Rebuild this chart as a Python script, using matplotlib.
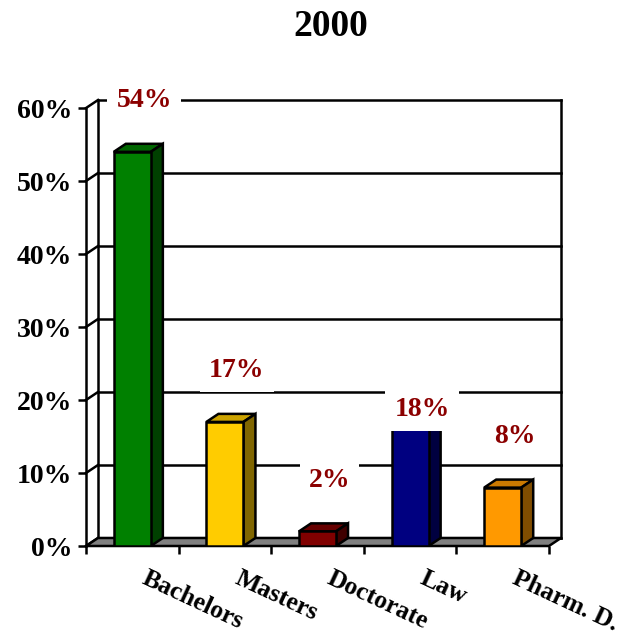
import matplotlib
matplotlib.use("Agg")
import matplotlib.pyplot as plt
from matplotlib.patches import Polygon
from matplotlib.transforms import ScaledTranslation

categories = ["Bachelors", "Masters", "Doctorate", "Law", "Pharm. D."]
values = [54, 17, 2, 18, 8]
value_labels = ["54%", "17%", "2%", "18%", "8%"]
y_ticks = [0, 10, 20, 30, 40, 50, 60]
y_tick_labels = ["0%", "10%", "20%", "30%", "40%", "50%", "60%"]
title = "2000"

front_colors = ["#008000", "#FFCC00", "#800000", "#000080", "#FF9900"]
label_offsets_pt = [37, 37, 37, 4, 37]

FONT = "Liberation Serif"
FS = 20
W, H = 624, 642
fig = plt.figure(figsize=(W / 100, H / 100), dpi=100)
ax = fig.add_axes([86 / W, (H - 546) / H, (561 - 86) / W, (546 - 100) / H])

dx, dy = 0.13, 1.1
bw = 0.4
lw = 1.8
n = len(categories)
ax.set_xlim(-0.5, n - 0.5 + dx)
ax.set_ylim(0, 60 + dy)

for s in ax.spines.values():
    s.set_visible(False)

def shade(c, f):
    r, g, b = matplotlib.colors.to_rgb(c)
    return (r * f, g * f, b * f)

# back wall gridlines and left wall
for t in y_ticks:
    ax.plot([-0.5 + dx, n - 0.5 + dx], [t + dy, t + dy], color="black", lw=lw, zorder=1, clip_on=False)
    ax.plot([-0.5, -0.5 + dx], [t, t + dy], color="black", lw=lw, zorder=1, clip_on=False)
ax.plot([-0.5 + dx, -0.5 + dx], [dy, 60 + dy], color="black", lw=lw, zorder=1, clip_on=False)
ax.plot([n - 0.5 + dx, n - 0.5 + dx], [dy, 60 + dy], color="black", lw=lw, zorder=1, clip_on=False)
ax.plot([-0.5, -0.5], [0, 60], color="black", lw=lw, zorder=1, clip_on=False)
# floor
ax.add_patch(Polygon([(-0.5, 0), (n - 0.5, 0), (n - 0.5 + dx, dy), (-0.5 + dx, dy)],
                     closed=True, facecolor="#808080", edgecolor="black", lw=lw, zorder=2, clip_on=False))

# bars
for i, (v, c) in enumerate(zip(values, front_colors)):
    x0, x1 = i - bw / 2, i + bw / 2
    ax.bar(i, v, width=bw, color=c, edgecolor="black", lw=lw, zorder=4)
    ax.add_patch(Polygon([(x0, v), (x0 + dx, v + dy), (x1 + dx, v + dy), (x1, v)], closed=True,
                         facecolor=shade(c, 0.8), edgecolor="black", lw=lw, zorder=3, joinstyle="miter"))
    ax.add_patch(Polygon([(x1, 0), (x1 + dx, dy), (x1 + dx, v + dy), (x1, v)], closed=True,
                         facecolor=shade(c, 0.5), edgecolor="black", lw=lw, zorder=3, joinstyle="miter"))

# value labels
for i, (v, lab, off) in enumerate(zip(values, value_labels, label_offsets_pt)):
    ax.annotate(lab, (i + dx, v), xytext=(0, off), textcoords="offset points",
                ha="center", va="center", fontsize=FS, fontweight="bold", family=FONT,
                color="#8B0000", zorder=6,
                bbox=dict(boxstyle="square,pad=0.33", facecolor="white", edgecolor="none"))

# axes ticks
ax.set_yticks(y_ticks, y_tick_labels)
ax.tick_params(axis="y", length=6, width=lw, pad=4, labelsize=FS)
for t in ax.get_yticklabels():
    t.set_fontfamily(FONT)
    t.set_fontweight("bold")

ax.set_xticks([i - 0.5 for i in range(n + 1)], [""] * (n + 1))
ax.tick_params(axis="x", which="major", length=6, width=lw, direction="out")

tr = ax.get_xaxis_transform() + ScaledTranslation(16 / 100, -21 / 100, fig.dpi_scale_trans)
for i, cat in enumerate(categories):
    ax.text(i, 0, cat, transform=tr, rotation=-25, rotation_mode="anchor",
            ha="left", va="top", fontsize=18.5, fontweight="bold", family=FONT, clip_on=False)

fig.text(331 / W, 1 - 27 / H, title, ha="center", va="center", fontsize=27,
         fontweight="bold", family=FONT)

fig.savefig("out.png", dpi=100)
